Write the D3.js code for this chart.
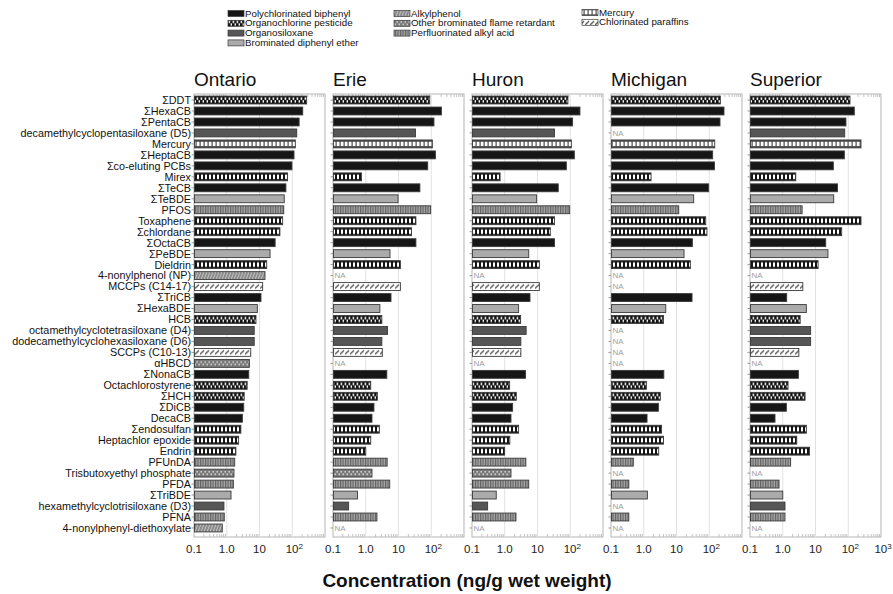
<!DOCTYPE html>
<html>
<head>
<meta charset="utf-8">
<script src="https://cdn.jsdelivr.net/npm/d3@7"></script>
<style>
  html, body { margin: 0; padding: 0; background: #fff; }
  svg { display: block; font-family: "Liberation Sans", Arial, sans-serif; }
</style>
</head>
<body>
<svg id="chart" width="893" height="594"></svg>
<script>
// Contaminant concentrations in lake trout (ng/g wet weight), by lake
const lakes = ["Ontario", "Erie", "Huron", "Michigan", "Superior"];

const compounds = [
  "\u03A3DDT", "\u03A3HexaCB", "\u03A3PentaCB", "decamethylcyclopentasiloxane (D5)", "Mercury",
  "\u03A3HeptaCB", "\u03A3co-eluting PCBs", "Mirex", "\u03A3TeCB", "\u03A3TeBDE",
  "PFOS", "Toxaphene", "\u03A3chlordane", "\u03A3OctaCB", "\u03A3PeBDE",
  "Dieldrin", "4-nonylphenol (NP)", "MCCPs (C14-17)", "\u03A3TriCB", "\u03A3HexaBDE",
  "HCB", "octamethylcyclotetrasiloxane (D4)", "dodecamethylcyclohexasiloxane (D6)", "SCCPs (C10-13)", "\u03B1HBCD",
  "\u03A3NonaCB", "Octachlorostyrene", "\u03A3HCH", "\u03A3DiCB", "DecaCB",
  "\u03A3endosulfan", "Heptachlor epoxide", "Endrin", "PFUnDA", "Trisbutoxyethyl phosphate",
  "PFDA", "\u03A3TriBDE", "hexamethylcyclotrisiloxane (D3)", "PFNA", "4-nonylphenyl-diethoxylate"
];

// chemical class of each compound (index into classNames)
const compoundClass = [
  1, 0, 0, 2, 7,
  0, 0, 1, 0, 3,
  6, 1, 1, 0, 3,
  1, 4, 8, 0, 3,
  1, 2, 2, 8, 5,
  0, 1, 1, 0, 0,
  1, 1, 1, 6, 5,
  6, 3, 2, 6, 4
];

const classNames = [
  "Polychlorinated biphenyl", "Organochlorine pesticide", "Organosiloxane", "Brominated diphenyl ether",
  "Alkylphenol", "Other brominated flame retardant", "Perfluorinated alkyl acid",
  "Mercury", "Chlorinated paraffins"
];

// null = not analysed (NA)
const ontario = [
  275, 209, 162, 137, 124, 113, 98, 72, 64, 57,
  55, 51, 42, 30, 21, 16.6, 14.7, 12.5, 11.1, 8.6,
  7.8, 6.9, 6.9, 5.4, 4.9, 4.7, 4.2, 3.4, 3.3, 3.0,
  2.7, 2.3, 1.9, 1.75, 1.66, 1.59, 1.35, 0.82, 0.84, 0.73
];
const erie = [
  90, 204, 121, 33, 108, 134, 78, 0.74, 45, 9.7,
  96, 34, 25, 34, 5.5, 11.4, null, 11.4, 5.9, 2.7,
  3.1, 4.6, 3.1, 3.2, null, 4.4, 1.42, 2.26, 1.78, 1.55,
  2.6, 1.42, 1.0, 4.5, 1.55, 5.4, 0.56, 0.30, 2.2, null
];
const huron = [
  85, 198, 118, 33, 108, 133, 76, 0.72, 43, 9.4,
  96, 33, 24.6, 33, 5.4, 11.4, null, 11.4, 5.9, 2.65,
  3.05, 4.5, 3.1, 3.1, null, 4.3, 1.41, 2.25, 1.74, 1.55,
  2.65, 1.43, 0.99, 4.4, 1.55, 5.4, 0.55, 0.30, 2.2, null
];
const michigan = [
  218, 282, 213, null, 147, 127, 144, 1.67, 96, 33.5,
  11.7, 78, 85, 30.5, 17, 26.5, null, null, 29.8, 4.7,
  4.0, null, null, null, null, 4.1, 1.2, 3.2, 2.8, 1.26,
  3.5, 4.0, 2.86, 0.48, null, 0.35, 1.29, null, 0.35, null
];
const superior = [
  113, 153, 85, 78, 245, 76, 35, 2.5, 47, 36,
  3.9, 245, 63, 20.5, 24, 12, null, 4.1, 1.32, 5.25,
  3.4, 7.1, 7.1, 3.1, null, 3.0, 1.45, 4.8, 1.29, 0.58,
  5.25, 2.67, 6.6, 1.74, null, 0.77, 1.0, 1.17, 1.17, null
];
const lakeValues = [ontario, erie, huron, michigan, superior];

const tickValues = [0.1, 1, 10, 100, 1000];
const tickBase = ["0.1", "1.0", "10", "10", "10"];
const tickSup = ["", "", "", "2", "3"];

const axisTitle = "Concentration (ng/g wet weight)";

// ---------------------------------------------------------------- layout
const svg = d3.select("#chart");
const panelLefts = [194, 333, 472, 611, 750];
const panelWidth = 131;
const plotTop = 94, plotBottom = 537;

const y = d3.scaleBand().domain(compounds).range([93, 535]).padding(0.28);
const step = y.step(), bh = y.bandwidth(), y0 = y(compounds[0]);

// ---------------------------------------------------------------- fills
const defs = svg.append("defs");
function pattern(id, w, bg, draw) {
  const p = defs.append("pattern").attr("id", id)
    .attr("patternUnits", "userSpaceOnUse")
    .attr("x", 0).attr("y", y0).attr("width", w).attr("height", step);
  p.append("rect").attr("width", w).attr("height", step).attr("fill", bg);
  draw(p);
}
pattern("ocLadder", 4, "#151515", p =>
  p.append("rect").attr("x", 1).attr("y", 1.7).attr("width", 2).attr("height", bh - 3.4).attr("fill", "#fff"));
pattern("ocChecker", 4, "#151515", p => {
  p.append("rect").attr("x", 0.6).attr("y", 1.4).attr("width", 1.6).attr("height", bh / 2 - 1.6).attr("fill", "#fff");
  p.append("rect").attr("x", 2.6).attr("y", bh / 2 + 0.2).attr("width", 1.6).attr("height", bh / 2 - 1.6).attr("fill", "#fff");
});
pattern("hg", 4, "#4a4a4a", p =>
  p.append("rect").attr("x", 0.7).attr("y", 1.8).attr("width", 2.8).attr("height", bh - 3.6).attr("fill", "#fff"));
pattern("cp", 5, "#fff", p =>
  p.append("path").attr("d", `M0,${bh - 2} L4,2`).attr("stroke", "#444").attr("stroke-width", 1.2));
pattern("alkyl", 3, "#8a8a8a", p =>
  p.append("path").attr("d", `M0,${bh} L3,0`).attr("stroke", "#cfcfcf").attr("stroke-width", 0.8));
pattern("bfr", 4, "#7a7a7a", p => {
  p.append("rect").attr("x", 0.5).attr("y", 2).attr("width", 1.4).attr("height", 1.4).attr("fill", "#e8e8e8");
  p.append("rect").attr("x", 2.5).attr("y", bh - 3.4).attr("width", 1.4).attr("height", 1.4).attr("fill", "#e8e8e8");
});
pattern("pfaa", 2.5, "#a5a5a5", p =>
  p.append("rect").attr("x", 0.2).attr("y", 0).attr("width", 0.9).attr("height", step).attr("fill", "#505050"));

const checkerSet = new Set(["\u03A3DDT", "HCB", "Octachlorostyrene", "\u03A3HCH"]);
const classFill = ["#161616", "url(#ocLadder)", "#565656", "#ababab",
  "url(#alkyl)", "url(#bfr)", "url(#pfaa)", "url(#hg)", "url(#cp)"];
function fillFor(name, cls) {
  if (cls === 1 && checkerSet.has(name)) return "url(#ocChecker)";
  return classFill[cls];
}

// ---------------------------------------------------------------- panels
lakes.forEach((lake, li) => {
  const left = panelLefts[li];
  const x = d3.scaleLog().domain([0.1, 1000]).range([left, left + panelWidth]);
  const g = svg.append("g");

  // frame
  g.append("rect").attr("x", left).attr("y", plotTop)
    .attr("width", panelWidth).attr("height", plotBottom - plotTop)
    .attr("fill", "none").attr("stroke", "#b5b5b5").attr("stroke-width", 1);

  // decade gridlines
  g.selectAll("line.grid").data([1, 10, 100]).join("line")
    .attr("x1", d => x(d)).attr("x2", d => x(d))
    .attr("y1", plotTop).attr("y2", plotBottom)
    .attr("stroke", "#e2e2e2").attr("stroke-width", 1);

  // minor ticks along top and bottom
  const minors = [];
  [0.1, 1, 10, 100].forEach(d => { for (let m = 2; m <= 9; m++) minors.push(d * m); });
  g.selectAll("line.mt").data(minors).join("line")
    .attr("x1", d => x(d)).attr("x2", d => x(d))
    .attr("y1", plotTop).attr("y2", plotTop + 3)
    .attr("stroke", "#c4c4c4");
  g.selectAll("line.mb").data(minors).join("line")
    .attr("x1", d => x(d)).attr("x2", d => x(d))
    .attr("y1", plotBottom).attr("y2", plotBottom - 3)
    .attr("stroke", "#c4c4c4");

  // category ticks on the left edge
  g.selectAll("line.yt").data(compounds).join("line")
    .attr("x1", left - 2.5).attr("x2", left)
    .attr("y1", d => y(d) + bh / 2).attr("y2", d => y(d) + bh / 2)
    .attr("stroke", "#999");

  const vals = lakeValues[li];
  const rows = compounds.map((c, i) => ({ name: c, cls: compoundClass[i], v: vals[i] }));

  g.selectAll("rect.bar").data(rows.filter(r => r.v != null)).join("rect")
    .attr("x", left + 0.5)
    .attr("y", d => y(d.name))
    .attr("width", d => x(d.v) - left - 0.5)
    .attr("height", bh)
    .attr("fill", d => fillFor(d.name, d.cls))
    .attr("stroke", "#3a3a3a").attr("stroke-width", 0.9);

  g.selectAll("text.na").data(rows.filter(r => r.v == null)).join("text")
    .attr("x", left + 1.5).attr("y", d => y(d.name) + bh / 2)
    .attr("dy", "0.35em").attr("font-size", 8).attr("fill", "#a0a0a0")
    .text("NA");

  // title
  svg.append("text").attr("x", left).attr("y", 86)
    .attr("font-size", 19).attr("fill", "#111").text(lake);

  // x tick labels
  const nT = li === lakes.length - 1 ? 5 : 4;
  for (let t = 0; t < nT; t++) {
    const tx = svg.append("text").attr("x", x(tickValues[t]) + (tickSup[t] ? 2 : 0)).attr("y", 553)
      .attr("text-anchor", "middle").attr("font-size", 11.5).attr("fill", "#222");
    tx.append("tspan").text(tickBase[t]);
    if (tickSup[t]) tx.append("tspan").attr("dy", -4).attr("font-size", 8).text(tickSup[t]);
  }
});

// category labels
svg.append("g").selectAll("text").data(compounds).join("text")
  .attr("x", 191).attr("y", d => y(d) + bh / 2).attr("dy", "0.36em")
  .attr("text-anchor", "end").attr("font-size", 10.8).attr("fill", "#111")
  .text(d => d);

// axis title
svg.append("text").attr("x", 467).attr("y", 587).attr("text-anchor", "middle")
  .attr("font-size", 19).attr("font-weight", "bold").attr("fill", "#111").text(axisTitle);

// ---------------------------------------------------------------- legend
const legendPos = [
  [228, 13.5], [228, 23.3], [228, 33.1], [228, 42.9],
  [394, 13.5], [394, 23.3], [394, 33.1],
  [582, 12.5], [582, 22.3]
];
const legend = svg.append("g");
classNames.forEach((name, i) => {
  const [lx, ly] = legendPos[i];
  legend.append("rect").attr("x", lx).attr("y", ly - 3).attr("width", 16).attr("height", 6)
    .attr("fill", i === 1 ? "url(#ocChecker)" : classFill[i])
    .attr("stroke", "#3a3a3a").attr("stroke-width", 0.7);
  // slightly widened small type keeps the rows compact
  legend.append("text")
    .attr("transform", `translate(${lx + 17},${ly}) scale(1.12,1)`)
    .attr("dy", "0.36em")
    .attr("font-size", 8.7).attr("fill", "#111").text(name);
});
</script>
</body>
</html>
